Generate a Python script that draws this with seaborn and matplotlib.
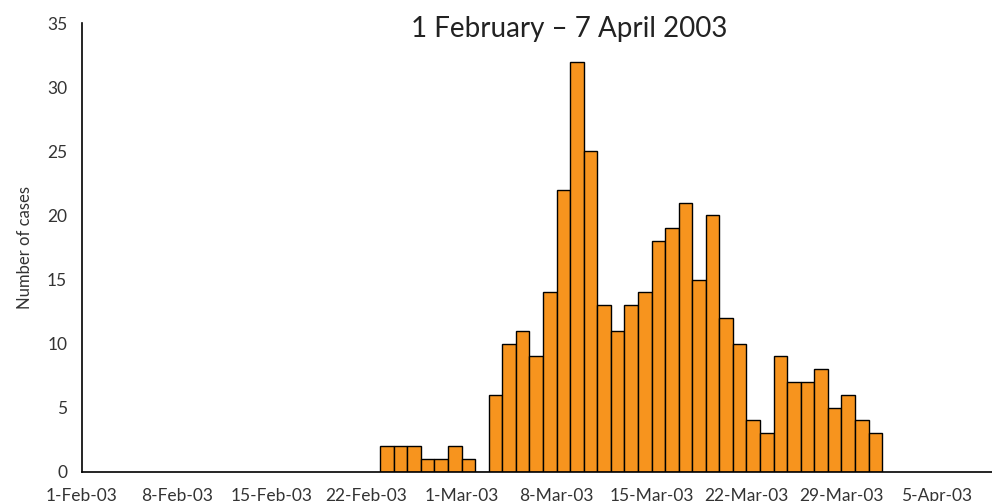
"""
Daily case counts, 1 February - 7 April 2003 (epidemic curve)
"""
import pandas as pd
import matplotlib
matplotlib.use("Agg")
import matplotlib.pyplot as plt
import seaborn as sns

# data: daily cases from 23-Feb-03 to 31-Mar-03
first_day = "2003-02-01"
onset_start = "2003-02-23"
cases = [2, 2, 2, 1, 1, 2,
         1, 0, 6, 10, 11, 9, 14,
         22, 32, 25, 13, 11, 13, 14,
         18, 19, 21, 15, 20, 12, 10,
         4, 3, 9, 7, 7, 8, 5,
         6, 4, 3]
tick_dates = ["2003-02-01", "2003-02-08", "2003-02-15", "2003-02-22", "2003-03-01",
              "2003-03-08", "2003-03-15", "2003-03-22", "2003-03-29", "2003-04-05"]
y_ticks = [0, 5, 10, 15, 20, 25, 30, 35]
title = "1 February \u2013 7 April 2003"


def main():
    sns.set_theme(style="white")
    plt.rcParams["font.family"] = ["Lato", "DejaVu Sans"]

    t0 = pd.Timestamp(first_day)
    dates = pd.date_range(onset_start, periods=len(cases), freq="D")
    df = pd.DataFrame({"day": (dates - t0).days + 0.5, "cases": cases})

    fig = plt.figure(figsize=(9.92, 5.01), dpi=100)
    ax = fig.add_axes([0.0824, 0.0585, 0.9176, 0.8950])

    sns.barplot(data=df, x="day", y="cases", native_scale=True, width=1,
                color="#F7941E", saturation=1, edgecolor="black", linewidth=1,
                ax=ax)

    ticks = pd.to_datetime(tick_dates)
    ax.set_xticks((ticks - t0).days)
    ax.set_xticklabels([f"{d.day}-{d.strftime('%b')}-{d.strftime('%y')}" for d in ticks])
    ax.set_xlim(0, 67.1)
    ax.set_ylim(0, 35)
    ax.set_yticks(y_ticks)
    ax.set_xlabel("")
    ax.set_ylabel("Number of cases", fontsize=12, color="#333333", labelpad=10)

    sns.despine(ax=ax)
    for s in ("left", "bottom"):
        ax.spines[s].set_color("black")
        ax.spines[s].set_linewidth(1.2)
    ax.tick_params(axis="both", which="major", direction="out", length=3.5,
                   width=1, colors="black", labelsize=12.5, labelcolor="#333333")
    ax.tick_params(axis="x", pad=8)
    ax.tick_params(axis="y", pad=7)
    ax.grid(False)

    fig.text(0.574, 0.942, title, ha="center", va="center", fontsize=20, color="#222222")

    fig.savefig("out.png", dpi=100)
    plt.close(fig)


if __name__ == "__main__":
    main()
